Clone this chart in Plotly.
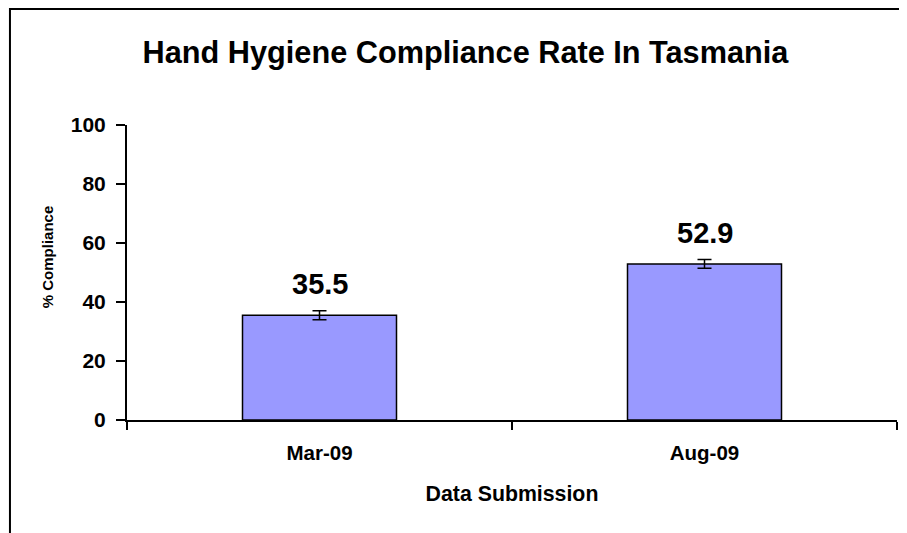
import plotly.graph_objs as go

periods = ['Mar-09', 'Aug-09']
compliance = [35.5, 52.9]
ci = [1.5, 1.5]

FONT = 'Liberation Sans, Arial, sans-serif'

fig = go.Figure()

fig.add_trace(go.Bar(
    x=periods, y=compliance, width=0.4,
    marker=dict(color='#9999FF', line=dict(color='black', width=1.5)),
    error_y=dict(type='data', array=ci, color='black', thickness=1.5, width=7),
    hoverinfo='skip', showlegend=False))

# value labels above error bars
for p, v in zip(periods, compliance):
    fig.add_annotation(x=p, y=v, text='{}'.format(v), showarrow=False,
                       yanchor='middle', yshift=31,
                       font=dict(family=FONT, size=29, color='black', weight='bold'))

# y axis title sits a bit above the plot centre, like the original
fig.add_annotation(xref='paper', yref='paper', x=-0.1039, y=0.555,
                   text='% Compliance', textangle=-90, showarrow=False,
                   xanchor='center', yanchor='middle',
                   font=dict(family=FONT, size=15, color='black', weight='bold'))

# outer border (chart area continues past right/bottom of image)
fig.add_shape(type='rect', xref='paper', yref='paper',
              x0=-0.152, x1=1.06, y0=-0.6, y1=1.393,
              line=dict(color='black', width=2), fillcolor='rgba(0,0,0,0)')

# page body has an 8px margin, so offsets are compensated here
fig.update_layout(
    width=907, height=533,
    margin=dict(l=119, r=18, t=117, b=121),
    paper_bgcolor='white', plot_bgcolor='white',
    font=dict(family=FONT, color='black'),
    title=dict(text='Hand Hygiene Compliance Rate In Tasmania',
               x=0.5044, xanchor='center', y=1 - 44 / 533, yanchor='middle',
               font=dict(family=FONT, size=30.7, color='black', weight='bold')),
    xaxis=dict(range=[-0.5, 1.5], showline=True, linecolor='black', linewidth=2,
               ticks='outside', tickson='boundaries', ticklen=8, tickwidth=2,
               tickcolor='black', showgrid=False, ticklabelstandoff=13,
               tickfont=dict(family=FONT, size=20.5, color='black', weight='bold'),
               title=dict(text='Data Submission', standoff=23,
                          font=dict(family=FONT, size=21.3, color='black', weight='bold'))),
    yaxis=dict(range=[0, 100], dtick=20, showline=True, linecolor='black', linewidth=2,
               ticks='outside', ticklen=9, tickwidth=2, tickcolor='black',
               showgrid=False, zeroline=False, ticklabelstandoff=6,
               tickfont=dict(family=FONT, size=21, color='black', weight='bold')),
)

fig.write_html("out.html")
